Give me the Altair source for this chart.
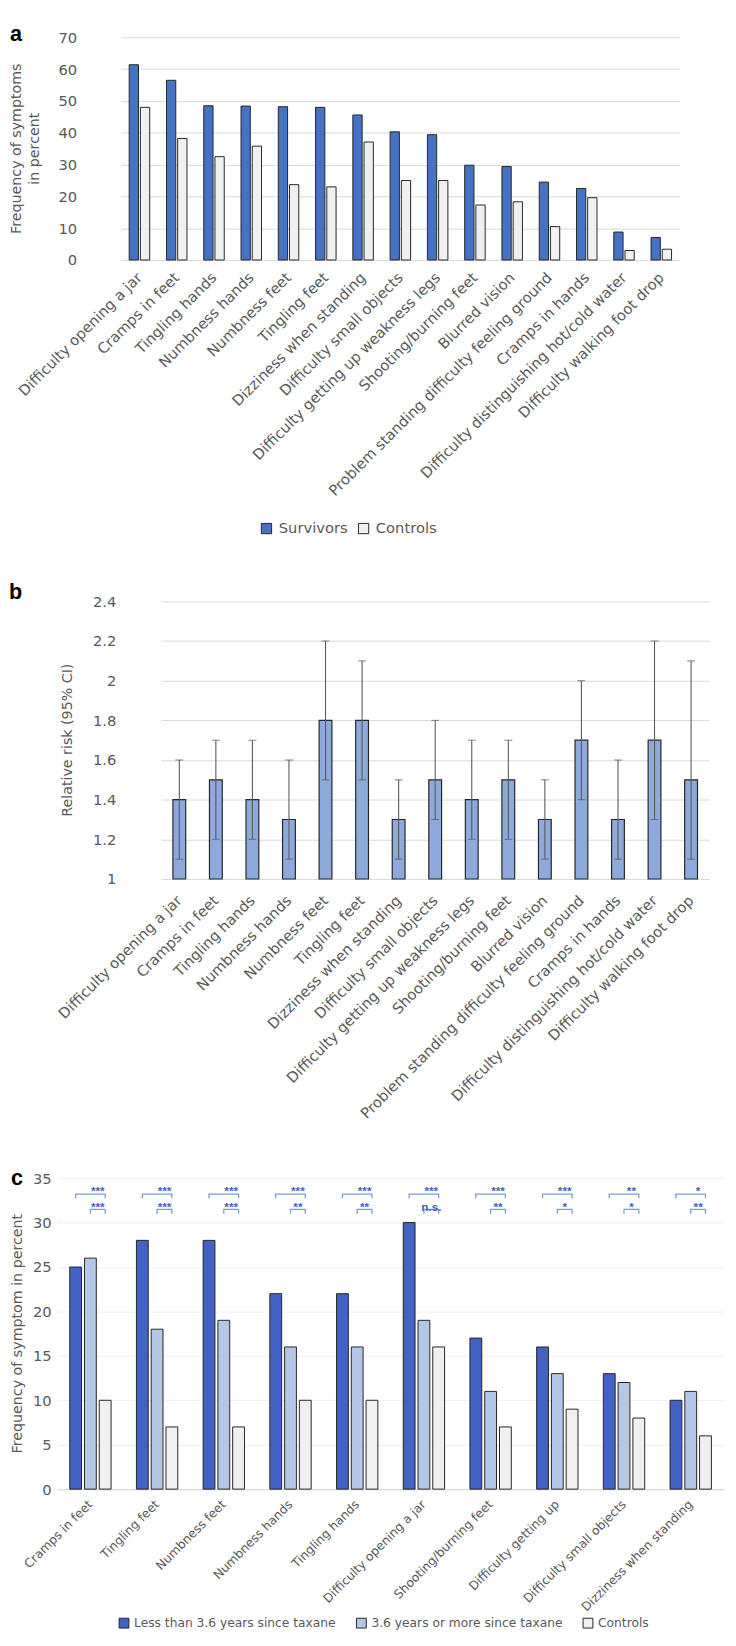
import altair as alt
import pandas as pd

FONT = "DejaVu Sans"
TXT = "#595959"
GRID = "#D9D9D9"
EDGE = "#262626"

# ---------------- Panel a ----------------
symptoms_a = [
    "Difficulty opening a jar", "Cramps in feet", "Tingling hands", "Numbness hands",
    "Numbness feet", "Tingling feet", "Dizziness when standing", "Difficulty small objects",
    "Difficulty getting up weakness legs", "Shooting/burning feet", "Blurred vision",
    "Problem standing difficulty feeling ground", "Cramps in hands",
    "Difficulty distinguishing hot/cold water", "Difficulty walking foot drop",
]
survivors_a = [61.4, 56.5, 48.5, 48.4, 48.2, 48.0, 45.6, 40.3, 39.4, 29.8, 29.4, 24.5, 22.5, 8.8, 7.1]
controls_a = [48.0, 38.2, 32.5, 35.8, 23.7, 23.0, 37.1, 25.0, 25.0, 17.3, 18.3, 10.5, 19.6, 3.0, 3.4]
series_a = ["Survivors", "Controls"]
colors_a = ["#4472C4", "#F0F0F0"]
yticks_a = [0, 10, 20, 30, 40, 50, 60, 70]

# ---------------- Panel b ----------------
symptoms_b = symptoms_a
rr_b = [1.4, 1.5, 1.4, 1.3, 1.8, 1.8, 1.3, 1.5, 1.4, 1.5, 1.3, 1.7, 1.3, 1.7, 1.5]
ci_low_b = [1.1, 1.2, 1.2, 1.1, 1.5, 1.5, 1.1, 1.3, 1.2, 1.2, 1.1, 1.4, 1.1, 1.3, 1.1]
ci_high_b = [1.6, 1.7, 1.7, 1.6, 2.2, 2.1, 1.5, 1.8, 1.7, 1.7, 1.5, 2.0, 1.6, 2.2, 2.1]
yticks_b = [1.0, 1.2, 1.4, 1.6, 1.8, 2.0, 2.2, 2.4]

# ---------------- Panel c ----------------
symptoms_c = [
    "Cramps in feet", "Tingling feet", "Numbness feet", "Numbness hands", "Tingling hands",
    "Difficulty opening a jar", "Shooting/burning feet", "Difficulty getting up",
    "Difficulty small objects", "Dizziness when standing",
]
recent_c = [25, 28, 28, 22, 22, 30, 17, 16, 13, 10]
later_c = [26, 18, 19, 16, 16, 19, 11, 13, 12, 11]
controls_c = [10, 7, 7, 10, 10, 16, 7, 9, 8, 6]
series_c = ["Less than 3.6 years since taxane", "3.6 years or more since taxane", "Controls"]
colors_c = ["#4262C5", "#B4C7E7", "#F0F0F0"]
sig_recent_vs_controls = ["***", "***", "***", "***", "***", "***", "***", "***", "**", "*"]
sig_later_vs_controls = ["***", "***", "***", "**", "**", "n.s.", "**", "*", "*", "**"]
yticks_c = [0, 5, 10, 15, 20, 25, 30, 35]

# bracket geometry (in data units of panel c)
UP_TOP, UP_LEG, UP_TXT = 33.2, 32.75, 33.55
LO_TOP, LO_LEG, LO_TXT = 31.5, 31.0, 31.8


def letter(ch, x, y):
    return alt.Chart(pd.DataFrame({"t": [ch]})).mark_text(
        align="left", baseline="top", fontSize=22, fontWeight="bold",
        color="#000000", font="Liberation Sans",
    ).encode(x=alt.value(x), y=alt.value(y), text="t:N")


def vtitle(txt, x, y):
    return alt.Chart(pd.DataFrame({"t": [txt]})).mark_text(
        angle=270, align="center", baseline="middle", fontSize=14.5,
        color=TXT, font=FONT,
    ).encode(x=alt.value(x), y=alt.value(y), text="t:N")


def spacer():
    return alt.Chart(pd.DataFrame({"v": [0]})).mark_point(opacity=0, size=1).properties(
        width=1, height=1)


# ---- panel a chart ----
df_a = pd.DataFrame({
    "symptom": symptoms_a * 2,
    "group": [series_a[0]] * len(symptoms_a) + [series_a[1]] * len(symptoms_a),
    "value": survivors_a + controls_a,
})
bars_a = alt.Chart(df_a).mark_bar(stroke=EDGE, strokeWidth=1).encode(
    x=alt.X("symptom:N", sort=symptoms_a, title=None,
            scale=alt.Scale(range=[39, 609], paddingInner=0.45, paddingOuter=0.225),
            axis=alt.Axis(labelAngle=-45, labelAlign="right", labelBaseline="middle",
                          labelPadding=15, labelFontSize=15, labelLimit=400, grid=False)),
    xOffset=alt.XOffset("group:N", sort=series_a,
                        scale=alt.Scale(paddingInner=0.17, paddingOuter=0)),
    y=alt.Y("value:Q", scale=alt.Scale(domain=[0, 70]),
            axis=alt.Axis(values=yticks_a, title=None, labelFontSize=15, labelPadding=6,
                          grid=True)),
    fill=alt.Fill("group:N", sort=series_a,
                  scale=alt.Scale(domain=series_a, range=colors_a),
                  legend=alt.Legend(orient="none", legendX=256, legendY=493,
                                    direction="horizontal", title=None, symbolType="square",
                                    symbolSize=110, labelFontSize=15, labelOffset=5,
                                    columnPadding=8, padding=0,
                                    symbolStrokeColor=EDGE, symbolStrokeWidth=1)),
)
panel_a = alt.layer(
    bars_a, letter("a", -74, -13),
    vtitle("Frequency of symptoms", -67, 113.5), vtitle("in percent", -48, 113.5),
).properties(width=608, height=227)

# ---- panel b chart ----
df_b = pd.DataFrame({"symptom": symptoms_b, "rr": rr_b, "lo": ci_low_b, "hi": ci_high_b})
xb = alt.X("symptom:N", sort=symptoms_b, title=None,
           scale=alt.Scale(range=[37, 596], paddingInner=0.65, paddingOuter=0.325),
           axis=alt.Axis(labelAngle=-45, labelAlign="right", labelBaseline="middle",
                         labelPadding=19, labelFontSize=15, labelLimit=400, grid=False))
yb_scale = alt.Scale(domain=[1, 2.4], zero=False)
bars_b = alt.Chart(df_b).mark_bar(fill="#8EA9DB", stroke=EDGE, strokeWidth=1.2).encode(
    x=xb,
    y=alt.Y("rr:Q", scale=yb_scale,
            axis=alt.Axis(values=yticks_b, format=".1~f", title=None,
                          labelFontSize=15, labelPadding=9, grid=True)),
    y2=alt.datum(1),
)
err_b = alt.Chart(df_b).mark_rule(color="#595959", strokeWidth=1.1).encode(
    x=alt.X("symptom:N", sort=symptoms_b), y=alt.Y("lo:Q", scale=yb_scale), y2="hi:Q")
cap_lo = alt.Chart(df_b).mark_tick(color="#595959", size=8, thickness=1.1, orient="horizontal").encode(
    x=alt.X("symptom:N", sort=symptoms_b), y=alt.Y("lo:Q", scale=yb_scale))
cap_hi = alt.Chart(df_b).mark_tick(color="#595959", size=8, thickness=1.1, orient="horizontal").encode(
    x=alt.X("symptom:N", sort=symptoms_b), y=alt.Y("hi:Q", scale=yb_scale))
panel_b = alt.layer(
    bars_b, err_b, cap_lo, cap_hi, letter("b", -118, -19),
    vtitle("Relative risk (95% CI)", -58, 141.5),
).properties(width=596, height=283)

# ---- panel c chart ----
df_c = pd.DataFrame({
    "symptom": symptoms_c * 3,
    "series": sum([[s] * len(symptoms_c) for s in series_c], []),
    "value": recent_c + later_c + controls_c,
})
xc = alt.X("symptom:N", sort=symptoms_c, title=None,
           scale=alt.Scale(range=[-4, 676], paddingInner=0.38, paddingOuter=0.19),
           axis=alt.Axis(labelAngle=-45, labelAlign="right", labelBaseline="middle",
                         labelPadding=13, labelFontSize=12.5, labelLimit=400, grid=False,
                         domain=True, domainColor="#D9D9D9", domainWidth=1.5))
xoc = alt.XOffset("series:N", sort=series_c, scale=alt.Scale(paddingInner=0.2, paddingOuter=0))
yc_scale = alt.Scale(domain=[0, 35])
bars_c = alt.Chart(df_c).mark_bar(stroke=EDGE, strokeWidth=1).encode(
    x=xc, xOffset=xoc,
    y=alt.Y("value:Q", scale=yc_scale,
            axis=alt.Axis(values=yticks_c, title=None, labelFontSize=15, labelPadding=10,
                          grid=True, gridColor="#EFEFEF")),
    fill=alt.Fill("series:N", sort=series_c,
                  scale=alt.Scale(domain=series_c, range=colors_c),
                  legend=alt.Legend(orient="none", legendX=112, legendY=447,
                                    direction="horizontal", title=None, symbolType="square",
                                    symbolSize=100, labelFontSize=12.5, labelOffset=4,
                                    columnPadding=18, padding=0, labelLimit=400,
                                    symbolStrokeColor=EDGE, symbolStrokeWidth=1)),
)
rows = []
for s in symptoms_c:
    for a, b, top, leg, tag in [(series_c[0], series_c[2], UP_TOP, UP_LEG, "u"),
                                (series_c[1], series_c[2], LO_TOP, LO_LEG, "l")]:
        rows += [
            {"symptom": s, "series": a, "y": leg, "id": s + tag, "k": 0},
            {"symptom": s, "series": a, "y": top, "id": s + tag, "k": 1},
            {"symptom": s, "series": b, "y": top, "id": s + tag, "k": 2},
            {"symptom": s, "series": b, "y": leg, "id": s + tag, "k": 3},
        ]
df_br = pd.DataFrame(rows)
brackets = alt.Chart(df_br).mark_line(color="#7B9BD6", strokeWidth=1.3).encode(
    x=alt.X("symptom:N", sort=symptoms_c), xOffset=alt.XOffset("series:N", sort=series_c),
    y=alt.Y("y:Q", scale=yc_scale), detail="id:N", order="k:Q")
df_sig = pd.DataFrame({
    "symptom": symptoms_c * 2,
    "series": [series_c[2]] * (2 * len(symptoms_c)),
    "label": sig_recent_vs_controls + sig_later_vs_controls,
    "y": [UP_TXT] * len(symptoms_c) + [LO_TXT] * len(symptoms_c),
})
sig_text = alt.Chart(df_sig).mark_text(dx=-7.5, fontSize=12, fontWeight="bold",
                                       color="#3F62C0", baseline="middle",
                                       align="center").encode(
    x=alt.X("symptom:N", sort=symptoms_c), xOffset=alt.XOffset("series:N", sort=series_c),
    y=alt.Y("y:Q", scale=yc_scale), text="label:N")
panel_c = alt.layer(
    bars_c, brackets, sig_text, letter("c", -51, -10),
    vtitle("Frequency of symptom in percent", -44, 158.5),
).properties(width=668, height=317)

row_a = alt.hconcat(spacer(), panel_a, spacing=0)
row_b = alt.hconcat(spacer(), panel_b, spacing=0)
row_c = alt.hconcat(spacer(), panel_c, spacing=0)

chart = alt.vconcat(row_a, row_b, row_c, spacing=46).resolve_scale(
    x="independent", y="independent", fill="independent", xOffset="independent"
).resolve_legend(fill="independent").properties(padding=0).configure_view(
    stroke=None
).configure_axis(
    labelFont=FONT, titleFont=FONT, labelColor=TXT, titleColor=TXT,
    titleFontWeight="normal", gridColor=GRID, gridWidth=1, ticks=False, domain=False,
).configure_legend(labelFont=FONT, labelColor=TXT)

chart.save("out.html", embed_options={"renderer": "svg", "actions": False})
